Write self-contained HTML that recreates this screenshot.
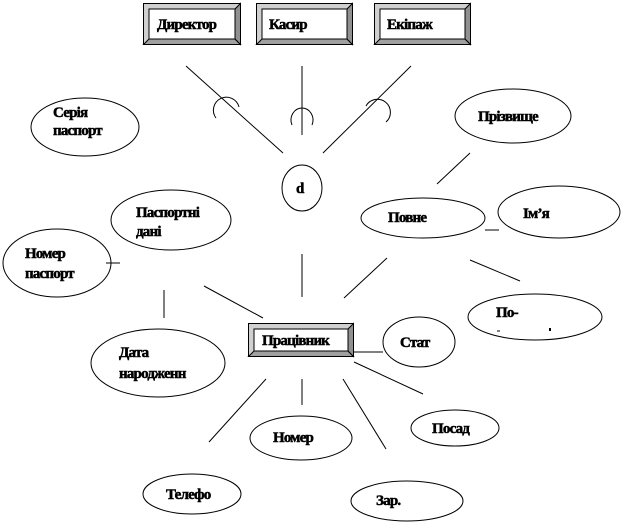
<!DOCTYPE html>
<html><head><meta charset="utf-8"><style>
html,body{margin:0;padding:0;background:#fff;}
svg{display:block;}
text{font-family:"Liberation Serif","DejaVu Serif",serif;font-weight:bold;font-size:15px;fill:#000;stroke:#000;stroke-width:0.5px;letter-spacing:-0.8px;}
</style></head><body>
<svg width="621" height="524" viewBox="0 0 621 524" xmlns="http://www.w3.org/2000/svg">
<g stroke="#000" stroke-width="1" fill="none">
<line x1="186" y1="66" x2="283" y2="153"/>
<line x1="302" y1="66" x2="302" y2="135"/>
<line x1="411" y1="66" x2="323" y2="153"/>
<path d="M216,118 A13,13 0 1,1 239,107"/>
<path d="M292,125 A11,12 0 1,1 312,125"/>
<path d="M366,106 A13,13 0 1,1 386,122"/>
<ellipse cx="302" cy="188" rx="20" ry="23"/>
<ellipse cx="85" cy="127" rx="54" ry="29"/>
<ellipse cx="513" cy="116" rx="58" ry="27"/>
<line x1="470" y1="153" x2="437" y2="184"/>
<ellipse cx="423" cy="218" rx="62" ry="20"/>
<ellipse cx="559" cy="212" rx="61" ry="26"/>
<line x1="485" y1="230" x2="499" y2="230"/>
<ellipse cx="171" cy="220" rx="60" ry="30"/>
<ellipse cx="57" cy="263" rx="54" ry="34"/>
<line x1="106" y1="263" x2="120" y2="263"/>
<line x1="164" y1="290" x2="164" y2="318"/>
<line x1="204" y1="286" x2="263" y2="318"/>
<line x1="302" y1="254" x2="302" y2="297"/>
<line x1="387" y1="258" x2="344" y2="298"/>
<line x1="470" y1="260" x2="520" y2="281"/>
<ellipse cx="535" cy="317" rx="67" ry="23"/>
<ellipse cx="419" cy="342" rx="36" ry="25"/>
<line x1="353" y1="352" x2="383" y2="352"/>
<ellipse cx="158" cy="363" rx="67" ry="34"/>
<line x1="354" y1="362" x2="423" y2="394"/>
<ellipse cx="455" cy="428" rx="44" ry="18"/>
<line x1="266" y1="379" x2="209" y2="442"/>
<line x1="302" y1="379" x2="302" y2="405"/>
<line x1="343" y1="379" x2="386" y2="449"/>
<ellipse cx="301" cy="438" rx="51" ry="22"/>
<ellipse cx="192" cy="494" rx="49" ry="20"/>
<ellipse cx="407" cy="501" rx="56" ry="20"/>
<line x1="497" y1="331" x2="500" y2="331"/>
<line x1="550" y1="328" x2="550" y2="331" stroke-width="2"/>
</g>
<g stroke="#000" stroke-width="1">
<g transform="translate(143,3)">
<rect x="0.5" y="0.5" width="97" height="41" fill="#d0d0d0"/>
<polygon points="0.5,41.5 6,36 92,36 97.5,41.5" fill="#a0a0a0"/>
<polygon points="97.5,0.5 92,6 92,36 97.5,41.5" fill="#909090"/>
<rect x="6" y="6" width="86" height="30" fill="#fff"/>
</g>
<g transform="translate(256,3)">
<rect x="0.5" y="0.5" width="96" height="41" fill="#d0d0d0"/>
<polygon points="0.5,41.5 6,36 91,36 96.5,41.5" fill="#a0a0a0"/>
<polygon points="96.5,0.5 91,6 91,36 96.5,41.5" fill="#909090"/>
<rect x="6" y="6" width="85" height="30" fill="#fff"/>
</g>
<g transform="translate(374,3)">
<rect x="0.5" y="0.5" width="96" height="41" fill="#d0d0d0"/>
<polygon points="0.5,41.5 6,36 91,36 96.5,41.5" fill="#a0a0a0"/>
<polygon points="96.5,0.5 91,6 91,36 96.5,41.5" fill="#909090"/>
<rect x="6" y="6" width="85" height="30" fill="#fff"/>
</g>
<g transform="translate(248,323)">
<rect x="0.5" y="0.5" width="105" height="33" fill="#d0d0d0"/>
<polygon points="0.5,33.5 6,28 100,28 105.5,33.5" fill="#a0a0a0"/>
<polygon points="105.5,0.5 100,6 100,28 105.5,33.5" fill="#909090"/>
<rect x="6" y="6" width="94" height="22" fill="#fff"/>
</g>
</g>
<text x="157" y="29">Директор</text>
<text x="269" y="29">Касир</text>
<text x="387" y="29">Екіпаж</text>
<text x="262" y="345">Працівник</text>
<text x="296" y="193">d</text>
<text x="53" y="117">Серія</text>
<text x="53" y="135">паспорт</text>
<text x="478" y="121">Прізвище</text>
<text x="388" y="222">Повне</text>
<text x="523" y="218">Ім’я</text>
<text x="136" y="217">Паспортні</text>
<text x="136" y="236">дані</text>
<text x="25" y="258">Номер</text>
<text x="25" y="278">паспорт</text>
<text x="496" y="317">По-</text>
<text x="119" y="357">Дата</text>
<text x="119" y="378">народженн</text>
<text x="400" y="347">Стат</text>
<text x="432" y="433">Посад</text>
<text x="273" y="442">Номер</text>
<text x="166" y="499">Телефо</text>
<text x="376" y="505">Зар.</text>
</svg>
</body></html>
